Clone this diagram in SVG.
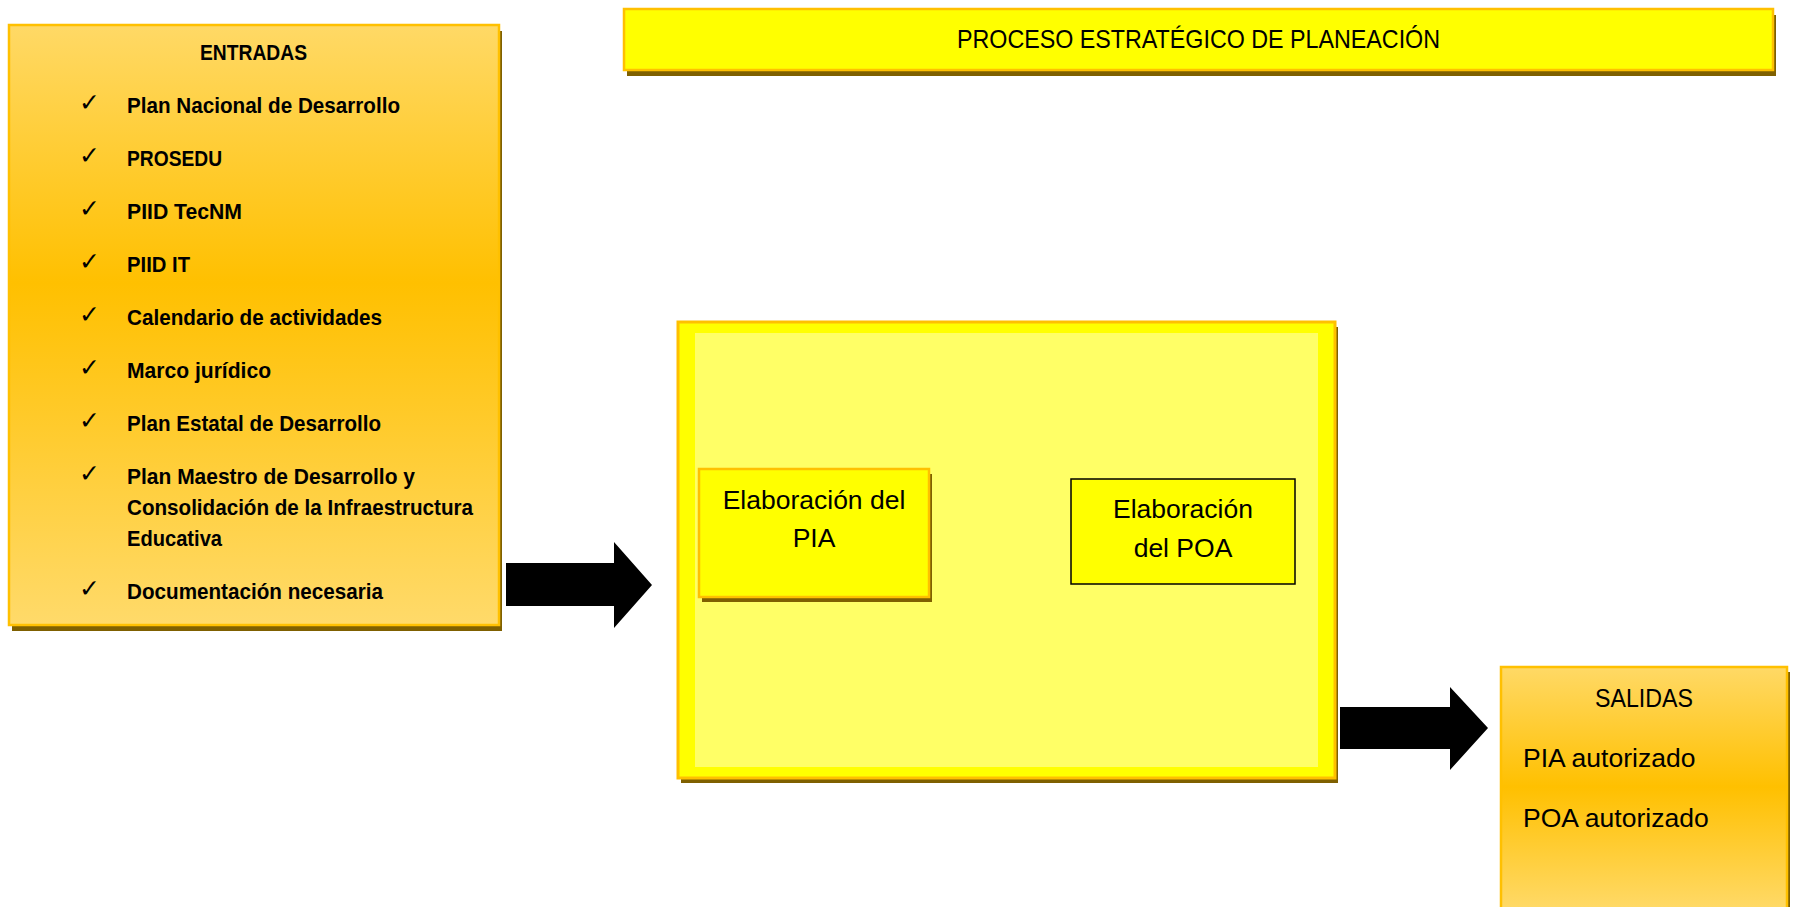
<svg xmlns="http://www.w3.org/2000/svg" width="1794" height="907" viewBox="0 0 1794 907">
  <style>
    .shadow { fill: #7F6000; }
    .gold { stroke: #FFC000; stroke-width: 2.5; }
    .bold { font-family: "Liberation Sans", Arial, sans-serif; font-weight: bold; font-size: 22px; fill: #000; }
    .reg { font-family: "Liberation Sans", Arial, sans-serif; font-size: 26.5px; fill: #000; }
    .chk { font-family: "DejaVu Sans", sans-serif; font-size: 25px; fill: #000; }
    .arrow { fill: #000; }
  </style>
  <defs>
    <linearGradient id="gIn" x1="0" y1="0" x2="0" y2="1">
      <stop offset="0" stop-color="#FFD966"/>
      <stop offset="0.43" stop-color="#FFC000"/>
      <stop offset="1" stop-color="#FFDA6A"/>
    </linearGradient>
    <linearGradient id="gOut" x1="0" y1="0" x2="0" y2="1">
      <stop offset="0" stop-color="#FFD966"/>
      <stop offset="0.49" stop-color="#FFC000"/>
      <stop offset="1" stop-color="#FFDA6A"/>
    </linearGradient>
  </defs>

  <g id="titulo">
    <rect class="shadow" x="627" y="15" width="1149" height="61"/>
    <rect class="gold" x="624" y="9" width="1149" height="61" fill="#FFFF00"/>
    <text class="reg" x="1198.5" y="48" text-anchor="middle" textLength="483" lengthAdjust="spacingAndGlyphs">PROCESO ESTRATÉGICO DE PLANEACIÓN</text>
  </g>

  <g id="entradas">
    <rect class="shadow" x="12" y="31" width="490" height="600"/>
    <rect class="gold" x="9" y="25" width="490" height="600" fill="url(#gIn)"/>
    <text class="bold" x="253.5" y="60" text-anchor="middle" textLength="107" lengthAdjust="spacingAndGlyphs">ENTRADAS</text>
    <g class="chk">
      <text x="79" y="111">✓</text>
      <text x="79" y="164">✓</text>
      <text x="79" y="217">✓</text>
      <text x="79" y="270">✓</text>
      <text x="79" y="323">✓</text>
      <text x="79" y="376">✓</text>
      <text x="79" y="429">✓</text>
      <text x="79" y="482">✓</text>
      <text x="79" y="597">✓</text>
    </g>
    <text class="bold" x="127" y="113" textLength="273" lengthAdjust="spacingAndGlyphs">Plan Nacional de Desarrollo</text>
    <text class="bold" x="127" y="166" textLength="95" lengthAdjust="spacingAndGlyphs">PROSEDU</text>
    <text class="bold" x="127" y="219" textLength="115" lengthAdjust="spacingAndGlyphs">PIID TecNM</text>
    <text class="bold" x="127" y="272" textLength="63" lengthAdjust="spacingAndGlyphs">PIID IT</text>
    <text class="bold" x="127" y="325" textLength="255" lengthAdjust="spacingAndGlyphs">Calendario de actividades</text>
    <text class="bold" x="127" y="378" textLength="144" lengthAdjust="spacingAndGlyphs">Marco jurídico</text>
    <text class="bold" x="127" y="431" textLength="254" lengthAdjust="spacingAndGlyphs">Plan Estatal de Desarrollo</text>
    <text class="bold" x="127" y="484" textLength="288" lengthAdjust="spacingAndGlyphs">Plan Maestro de Desarrollo y</text>
    <text class="bold" x="127" y="515" textLength="346" lengthAdjust="spacingAndGlyphs">Consolidación de la Infraestructura</text>
    <text class="bold" x="127" y="546" textLength="95" lengthAdjust="spacingAndGlyphs">Educativa</text>
    <text class="bold" x="127" y="599" textLength="256" lengthAdjust="spacingAndGlyphs">Documentación necesaria</text>
  </g>

  <g id="proceso">
    <rect class="shadow" x="681" y="327" width="657" height="456"/>
    <rect x="678" y="322" width="657" height="456" fill="#FFFF00" stroke="#FFC000" stroke-width="3"/>
    <rect x="695" y="333" width="623" height="434" fill="#FFFF66"/>
  </g>

  <g id="pia">
    <rect class="shadow" x="702" y="474" width="230" height="128"/>
    <rect class="gold" x="699" y="469" width="230" height="128" fill="#FFFF00"/>
    <text class="reg" x="814" y="509" text-anchor="middle">Elaboración del</text>
    <text class="reg" x="814" y="547" text-anchor="middle">PIA</text>
  </g>

  <g id="poa">
    <rect x="1071" y="479" width="224" height="105" fill="#FFFF00" stroke="#000" stroke-width="1.5"/>
    <text class="reg" x="1183" y="518" text-anchor="middle">Elaboración</text>
    <text class="reg" x="1183" y="557" text-anchor="middle">del POA</text>
  </g>

  <g id="salidas">
    <rect class="shadow" x="1504" y="672" width="286" height="245"/>
    <rect class="gold" x="1501" y="667" width="286" height="245" fill="url(#gOut)"/>
    <text class="reg" x="1644" y="707" text-anchor="middle" textLength="98" lengthAdjust="spacingAndGlyphs">SALIDAS</text>
    <text class="reg" x="1523" y="767">PIA autorizado</text>
    <text class="reg" x="1523" y="827">POA autorizado</text>
  </g>

  <g id="conectores">
    <polygon class="arrow" points="506,563 614,563 614,542 652,585 614,628 614,606 506,606"/>
    <polygon class="arrow" points="1340,707 1450,707 1450,687 1488,728 1450,770 1450,749 1340,749"/>
  </g>
</svg>
